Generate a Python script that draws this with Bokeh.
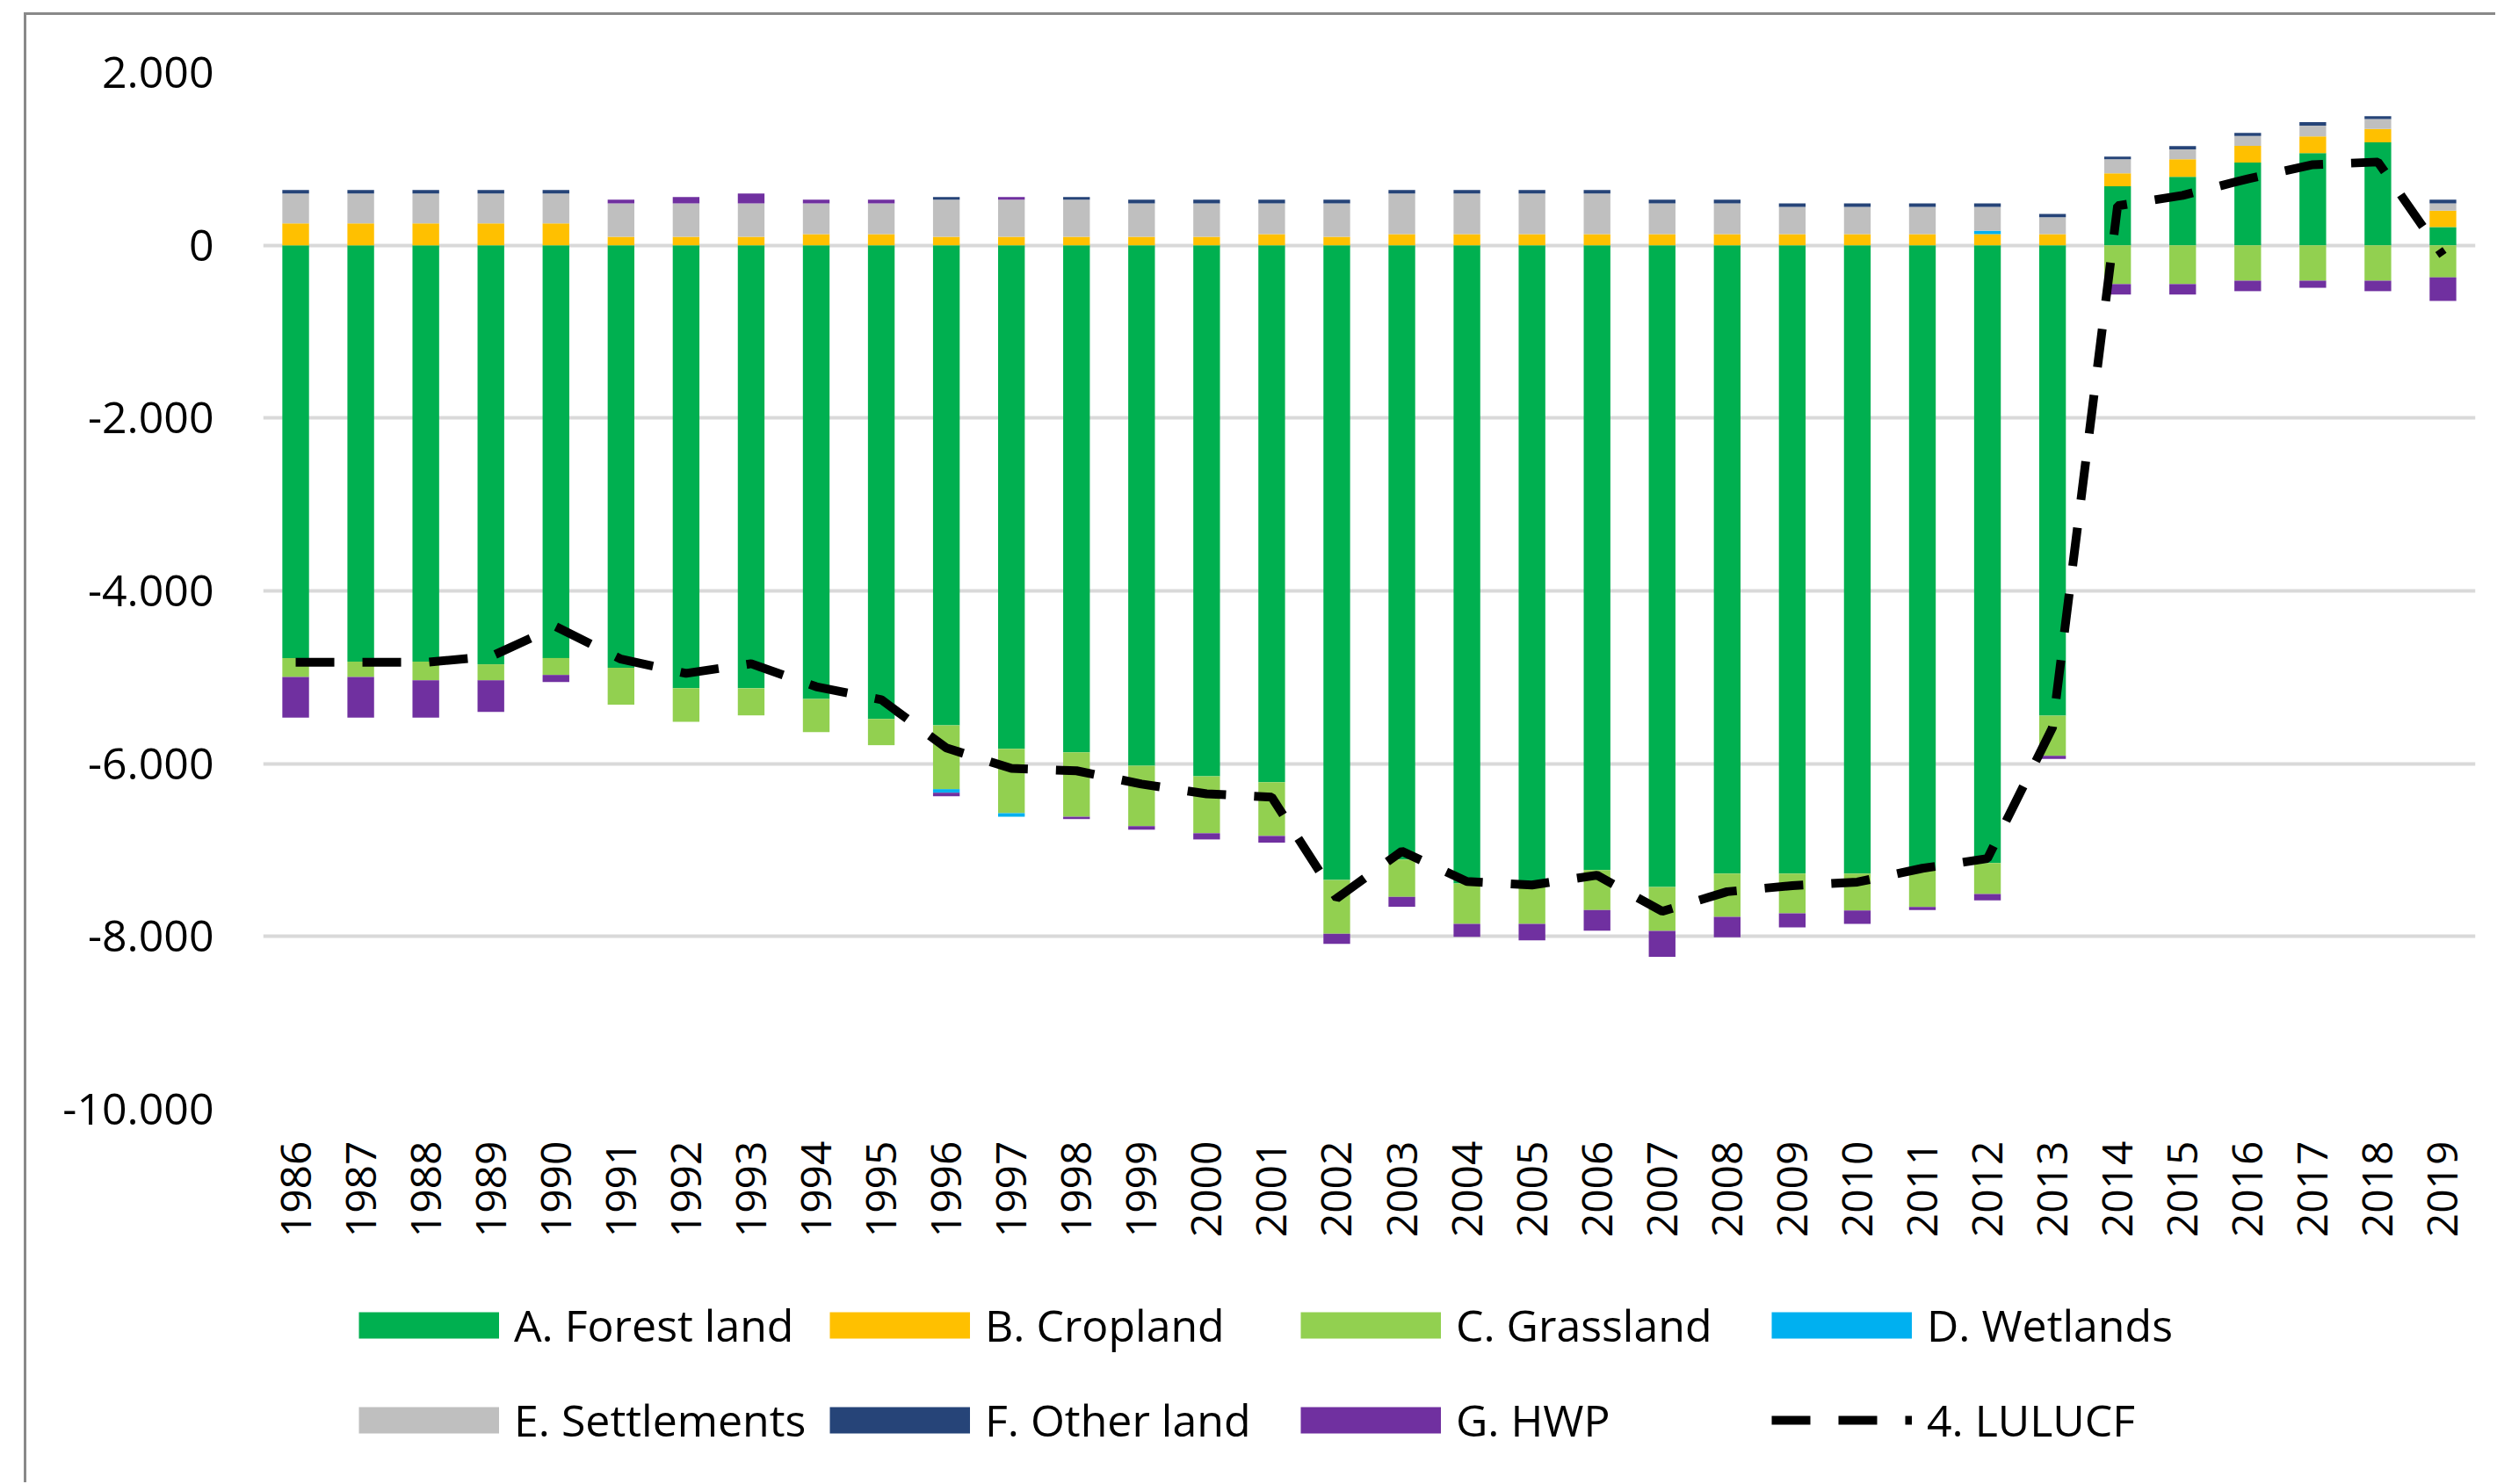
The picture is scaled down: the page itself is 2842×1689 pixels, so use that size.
from bokeh.plotting import figure
from bokeh.layouts import column
from bokeh.models import Range1d, FixedTicker, Legend, LegendItem, FactorRange
from bokeh.embed import file_html
from bokeh.resources import INLINE

# ---------------- data ----------------
years = ["1986", "1987", "1988", "1989", "1990", "1991", "1992", "1993", "1994", "1995",
         "1996", "1997", "1998", "1999", "2000", "2001", "2002", "2003", "2004", "2005",
         "2006", "2007", "2008", "2009", "2010", "2011", "2012", "2013",
         "2014", "2015", "2016", "2017", "2018", "2019"]

forest_land = [-4777, -4818, -4818, -4850, -4777, -4891, -5127, -5127, -5250, -5482,
               -5555, -5827, -5868, -6023, -6145, -6214, -7345, -7109, -7386, -7386,
               -7232, -7427, -7273, -7273, -7273, -7232, -7150, -5445,
               684, 793, 957, 1066, 1191, 211]
cropland = [254, 254, 254, 254, 254, 98, 98, 98, 129, 129,
            98, 98, 98, 98, 98, 129, 98, 129, 129, 129,
            129, 129, 129, 129, 129, 129, 129, 129,
            148, 203, 195, 195, 156, 191]
grassland = [-219, -178, -218, -186, -196, -427, -387, -314, -386, -304,
             -740, -746, -746, -700, -660, -622, -623, -432, -469, -469,
             -463, -509, -500, -459, -427, -427, -359, -464,
             -449, -449, -410, -410, -410, -371]
wetlands = [0, 0, 0, 0, 0, 0, 0, 0, 0, 0,
            -41, -41, 0, 0, 0, 0, 0, 0, 0, 0,
            0, 0, 0, 0, 0, 0, 39, 0,
            0, 0, 0, 0, 0, 0]
settlements = [344, 344, 344, 344, 344, 387, 387, 387, 355, 355,
               430, 430, 430, 387, 387, 355, 387, 469, 469, 469,
               469, 355, 355, 316, 316, 316, 277, 195,
               164, 113, 113, 125, 113, 82]
other_land = [43, 43, 43, 43, 43, 0, 0, 0, 0, 0,
              31, 0, 31, 43, 43, 43, 43, 43, 43, 43,
              43, 43, 43, 39, 39, 39, 39, 39,
              31, 39, 35, 39, 35, 43]
hwp = [-472, -472, -432, -364, -82, 43, 74, 113, 43, 43,
       -41, 31, -27, -41, -72, -78, -118, -114, -150, -190,
       -237, -300, -236, -163, -155, -36, -73, -36,
       -121, -121, -121, -82, -121, -273]
lulucf = [-4827, -4827, -4827, -4759, -4414, -4790, -4955, -4843, -5109, -5259,
          -5818, -6055, -6082, -6236, -6349, -6387, -7558, -7014, -7364, -7404,
          -7291, -7709, -7482, -7411, -7371, -7211, -7098, -5582,
          457, 578, 769, 933, 964, -117]

series_names = ["A. Forest land", "B. Cropland", "C. Grassland", "D. Wetlands",
                "E. Settlements", "F. Other land", "G. HWP"]
line_name = "4. LULUCF"
y_ticks = [-10000, -8000, -6000, -4000, -2000, 0, 2000]
y_tick_labels = ["-10.000", "-8.000", "-6.000", "-4.000", "-2.000", "0", "2.000"]

colors = ["#00B050", "#FFC000", "#92D050", "#00B0F0", "#BFBFBF", "#264478", "#7030A0"]
FONT = "Open Sans"
BORDER = "#898989"

# ---------------- chart figure ----------------
W, H1, H2 = 2840, 1420, 267
FL, FR, FT, FB = 299, 2817, 82, 1262     # frame edges in canvas pixels
p = figure(x_range=FactorRange(*years, range_padding=0), y_range=Range1d(-10000, 2000),
           width=W, height=H1, output_backend="svg", toolbar_location=None,
           min_border_left=FL, min_border_right=W - FR, min_border_top=FT,
           min_border_bottom=H1 - FB)
p.styles = {"background": f"linear-gradient({BORDER},{BORDER}) 27px 14px / 3px 100% no-repeat, "
                          f"linear-gradient({BORDER},{BORDER}) 27px 14px / 100% 3px no-repeat, white"}
p.border_fill_alpha = 0
p.outline_line_color = None
p.background_fill_color = "white"

p.xgrid.grid_line_color = None
p.ygrid.grid_line_color = "#D9D9D9"
p.ygrid.grid_line_width = 4
p.yaxis.ticker = FixedTicker(ticks=y_ticks)
p.yaxis.major_label_overrides = {t: l for t, l in zip(y_ticks, y_tick_labels)}
for ax in (p.xaxis[0], p.yaxis[0]):
    ax.axis_line_color = None
    ax.major_tick_line_color = None
    ax.minor_tick_line_color = None
    ax.major_tick_out = 0
    ax.major_tick_in = 0
    ax.minor_tick_out = 0
    ax.minor_tick_in = 0
    ax.major_label_text_font = FONT
    ax.major_label_text_color = "#000000"
p.xaxis.major_label_text_font_size = "48px"
p.yaxis.major_label_text_font_size = "50px"
p.yaxis.major_label_standoff = 56
p.xaxis.major_label_orientation = 1.5707963
p.xaxis.major_label_standoff = 36

# stacked bars (positives and negatives stacked separately, Excel style)
all_vals = [forest_land, cropland, grassland, wetlands, settlements, other_land, hwp]
n = len(years)
pos = [0] * n
neg = [0] * n
for vals, color in zip(all_vals, colors):
    bottoms, tops = [], []
    for i, v in enumerate(vals):
        if v >= 0:
            b = pos[i]; t = b + v; pos[i] = t
        else:
            b = neg[i]; t = b + v; neg[i] = t
        bottoms.append(b); tops.append(t)
    p.vbar(x=years, bottom=bottoms, top=tops, width=0.41, fill_color=color, line_color=None)

p.line(x=years, y=lulucf, line_color="black", line_width=10, line_dash="44 32")

# ---------------- legend strip (own figure so nothing is clipped) ----------------
lg_fig = figure(width=W, height=H2, x_range=Range1d(0, 1), y_range=Range1d(0, 1),
                x_axis_type=None, y_axis_type=None, output_backend="svg",
                toolbar_location=None, min_border=0, min_border_left=0, min_border_right=0,
                min_border_top=0, min_border_bottom=0)
lg_fig.styles = {"background": f"linear-gradient({BORDER},{BORDER}) 27px 0px / 3px 100% no-repeat, white"}
lg_fig.grid.grid_line_color = None
lg_fig.outline_line_color = None
lg_fig.background_fill_alpha = 0
lg_fig.border_fill_alpha = 0

# swatch renderers kept outside the visible range; thick butt-capped lines -> centred patches
off_x, off_y = [-5, -4], [-5, -5]
swatches = [lg_fig.line(x=off_x, y=off_y, line_color=c, line_width=30, line_cap="butt")
            for c in colors]
sw_line = lg_fig.line(x=off_x, y=off_y, line_color="black", line_width=10, line_dash="44 32")
legend_renderers = swatches + [sw_line]
labels = series_names + [line_name]

ITEM_H = 80
LEG_X = 408 - FL          # the column layout aligns this frame with the chart frame
rows = [(0, 4, 139), (4, 8, 31)]
for a, b, vy in rows:
    items = [LegendItem(label=labels[k], renderers=[legend_renderers[k]]) for k in range(a, b)]
    lg = Legend(items=items, location=(LEG_X, vy), orientation="horizontal",
                glyph_width=160, glyph_height=ITEM_H, label_height=ITEM_H, label_width=359,
                label_standoff=17, label_text_font=FONT, label_text_font_size="50px",
                label_text_color="#000000",
                padding=0, margin=0, spacing=0, border_line_color=None,
                background_fill_alpha=0)
    lg_fig.add_layout(lg)

layout = column(p, lg_fig, spacing=0)
open("out.html", "w").write(file_html(layout, INLINE))
